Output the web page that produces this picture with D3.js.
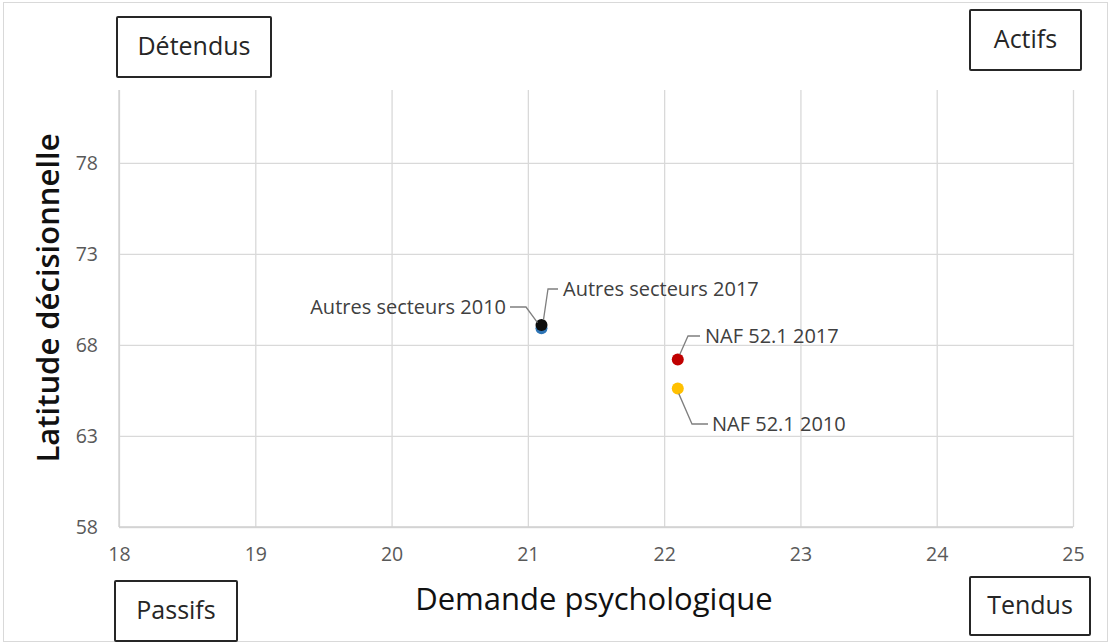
<!DOCTYPE html>
<html><head><meta charset="utf-8">
<script src="https://cdn.jsdelivr.net/npm/d3@7"></script>
<style>body{margin:0;background:#fff}text{font-family:"Open Sans",sans-serif}</style>
</head><body><svg id="c" width="1110" height="644"></svg>
<script>
const names = ["Autres secteurs 2010","Autres secteurs 2017","NAF 52.1 2017","NAF 52.1 2010"];
const xVals = [21.1, 21.1, 22.1, 22.1];
const yVals = [69.0, 69.1, 67.2, 65.6];
const colors = ["#2e75b6","#0d0d0d","#c00000","#ffc000"];
const xTicks = [18,19,20,21,22,23,24,25];
const yTicks = [58,63,68,73,78];
const quadrants = ["Détendus","Actifs","Passifs","Tendus"];

const svg = d3.select("#c");
const m = {l:119, r:1073, t:90, b:527};
const x = d3.scaleLinear().domain([18,25]).range([m.l,m.r]);
const y = d3.scaleLinear().domain([58,82]).range([m.b,m.t]);

svg.append("rect").attr("x",3.5).attr("y",2.5).attr("width",1104).attr("height",639)
  .attr("fill","#fff").attr("stroke","#d9d9d9");

const gx = svg.append("g").attr("transform",`translate(0,${m.b})`)
  .call(d3.axisBottom(x).tickValues(xTicks).tickFormat(d3.format("d")).tickSize(-(m.b-m.t)).tickPadding(20));
const gy = svg.append("g").attr("transform",`translate(${m.l},0)`)
  .call(d3.axisLeft(y).tickValues(yTicks).tickFormat(d3.format("d")).tickSize(-(m.r-m.l)).tickPadding(21));
[gx,gy].forEach(g=>{
  g.select(".domain").remove();
  g.selectAll(".tick line").attr("stroke","#d9d9d9").attr("stroke-width",1.3);
  g.selectAll(".tick text").attr("fill","#595959").style("font-size","19.5px").style("font-family","'Open Sans',sans-serif");
});
gy.selectAll(".tick text").attr("dy","0.32em");
svg.append("line").attr("x1",m.l).attr("x2",m.l).attr("y1",m.t).attr("y2",m.b).attr("stroke","#d0d0d0").attr("stroke-width",1.3);
svg.append("line").attr("x1",m.l).attr("x2",m.r).attr("y1",m.b).attr("y2",m.b).attr("stroke","#d0d0d0").attr("stroke-width",1.3);

svg.append("text").attr("x",594).attr("y",610).attr("text-anchor","middle")
  .style("font-size","31px").attr("fill","#111").text("Demande psychologique");
svg.append("text").attr("transform","translate(59,298) rotate(-90)").attr("text-anchor","middle")
  .style("font-size","31px").style("font-weight","600").attr("fill","#111").text("Latitude décisionnelle");

const boxes = [[117,17,154,60],[970,10,111,60],[115,581,122,60],[970,577,120,58]];
quadrants.forEach((q,i)=>{
  const b = boxes[i];
  svg.append("rect").attr("x",b[0]).attr("y",b[1]).attr("width",b[2]).attr("height",b[3])
    .attr("fill","#fff").attr("stroke","#262626").attr("stroke-width",2).attr("rx",1);
  svg.append("text").attr("x",b[0]+b[2]/2).attr("y",b[1]+b[3]/2+8).attr("text-anchor","middle")
    .style("font-size","25px").attr("fill","#262626").text(q);
});

const order = [0,1,3,2];
order.forEach(i=>{
  svg.append("circle").attr("cx",x(xVals[i])).attr("cy",y(yVals[i])+(i===0?1.5:0)).attr("r",6)
    .attr("fill",colors[i]);
});

const labs = [
  {tx:506, ty:307, anchor:"end", path:(px,py)=>`M${px-4},${py-4} L${526},${307} L${510},${307}`},
  {tx:563, ty:289, anchor:"start", path:(px,py)=>`M${px+2},${py-5} L${548},${289} L${558},${289}`},
  {tx:705, ty:336, anchor:"start", path:(px,py)=>`M${px+2},${py-5} L${688},${336} L${700},${336}`},
  {tx:712, ty:424, anchor:"start", path:(px,py)=>`M${px+1},${py+5} L${692},${424} L${708},${424}`}
];
labs.forEach((l,i)=>{
  const px = x(xVals[i]), py = y(yVals[i]);
  svg.append("path").attr("d",l.path(px,py)).attr("fill","none").attr("stroke","#7f7f7f").attr("stroke-width",1.3);
  svg.append("text").attr("x",l.tx).attr("y",l.ty+7).attr("text-anchor",l.anchor)
    .style("font-size","20px").attr("fill","#404040").text(names[i]);
});
</script></body></html>
